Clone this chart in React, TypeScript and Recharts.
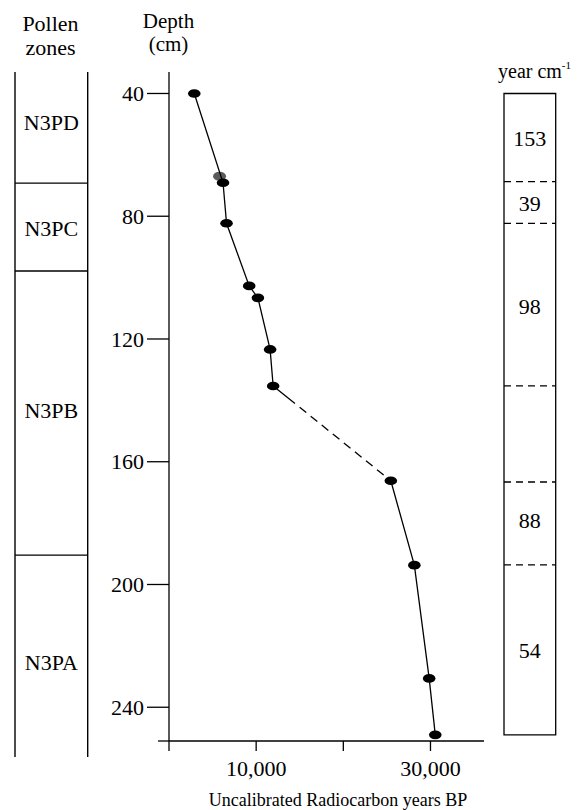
import React from 'react';
import {
  ComposedChart,
  Scatter,
  XAxis,
  YAxis,
  ReferenceLine,
  ReferenceArea,
} from 'recharts';

// ---- data ----
const upperAges = [2900, 6200, 6600, 9200, 10200, 11600, 11950];
const upperDepths = [40, 69.1, 82.3, 102.7, 106.6, 123.4, 135.3];
const gapAges = [11950, 25450];
const gapDepths = [135.3, 166.2];
const lowerAges = [25450, 28150, 29850, 30550];
const lowerDepths = [166.2, 193.7, 230.6, 249];
const greyAges = [5800];
const greyDepths = [67];

const depthTicks = [40, 80, 120, 160, 200, 240];
const ageTicks = [0, 10000, 20000, 30000];
const ageTickLabels: Record<number, string> = { 0: '', 10000: '10,000', 20000: '', 30000: '30,000' };

const zoneNames = ['N3PD', 'N3PC', 'N3PB', 'N3PA'];
const zoneLabelDepths = [49.5, 83.9, 143.1, 225.3];
const zoneBoundaries = [69.2, 97.85, 190.4];
const zoneTop = 33;
const zoneBottom = 256.2;

const rateValues = ['153', '39', '98', '88', '54'];
const rateLabelDepths = [54.5, 75.7, 109.3, 179, 221.6];
const rateBoundaries = [68.7, 82.3, 135.3, 166.6, 193.6];
const rateTop = 40;
const rateBottom = 249;

const depthDomain: [number, number] = [33, 251];
const ageDomain: [number, number] = [0, 36140];
const axisExtensionAge = -1262;

const toPts = (xs: number[], ys: number[]) => xs.map((x, i) => ({ age: x, depth: ys[i] }));
const upperData = toPts(upperAges, upperDepths);
const gapData = toPts(gapAges, gapDepths);
const lowerData = toPts(lowerAges, lowerDepths);
const greyData = toPts(greyAges, greyDepths);
const zoneLabelData = zoneNames.map((n, i) => ({ x: 0.5, y: zoneLabelDepths[i], name: n }));
const rateLabelData = rateValues.map((n, i) => ({ x: 0.5, y: rateLabelDepths[i], name: n }));

const FONT = '"Liberation Serif", "Times New Roman", serif';
const INK = '#000';
const textStyle = (size: number): React.CSSProperties => ({ fontFamily: FONT, fontSize: size, fill: INK });

const Dot = (props: any) => {
  const { cx, cy } = props;
  if (cx == null || cy == null) return <g />;
  return <ellipse cx={cx} cy={cy} rx={6.3} ry={4.3} fill={INK} />;
};
const GreyDot = (props: any) => {
  const { cx, cy } = props;
  if (cx == null || cy == null) return <g />;
  return <ellipse cx={cx} cy={cy} rx={6.5} ry={4.6} fill="#5a5a5a" />;
};
const NoDot = () => <g />;
const TextMark = (props: any) => {
  const { cx, cy, payload } = props;
  if (cx == null || cy == null) return <g />;
  return (
    <text x={cx} y={cy} dy="0.35em" textAnchor="middle" style={textStyle(22)}>
      {payload.name}
    </text>
  );
};

const XTick = (props: any) => {
  const { x, y, payload } = props;
  const label = ageTickLabels[payload.value] ?? '';
  if (!label) return <g />;
  return (
    <text x={x} y={y} dy="0.71em" textAnchor="middle" style={textStyle(22)}>
      {label}
    </text>
  );
};
const YTick = (props: any) => {
  const { x, y, payload } = props;
  return (
    <text x={x} y={y} dy="0.35em" textAnchor="end" style={textStyle(22)}>
      {payload.value}
    </text>
  );
};

const MainChart = () => (
  <ComposedChart
    width={580}
    height={810}
    margin={{ top: 72, right: 96, bottom: 0, left: 0 }}
    style={{ position: 'absolute', left: 0, top: 0 }}
  >
    <XAxis
      dataKey="age"
      type="number"
      domain={ageDomain}
      allowDataOverflow
      ticks={ageTicks}
      tickSize={10}
      tickMargin={9}
      height={69}
      stroke={INK}
      strokeWidth={1.3}
      tick={<XTick />}
      tickLine={{ stroke: INK, strokeWidth: 1.3 }}
      interval={0}
    />
    <YAxis
      dataKey="depth"
      type="number"
      domain={depthDomain}
      allowDataOverflow
      reversed
      ticks={depthTicks}
      tickSize={22}
      tickMargin={3}
      width={169}
      stroke={INK}
      strokeWidth={1.3}
      tick={<YTick />}
      tickLine={{ stroke: INK, strokeWidth: 1.3 }}
      interval={0}
    />
    <ReferenceLine
      segment={[
        { x: axisExtensionAge, y: depthDomain[1] },
        { x: 0, y: depthDomain[1] },
      ]}
      stroke={INK}
      strokeWidth={1.3}
      ifOverflow="visible"
    />
    <Scatter
      data={gapData}
      dataKey="depth"
      shape={NoDot}
      line={{
        stroke: INK,
        strokeWidth: 1.3,
        strokeDasharray:
          '28 6 8.5 5.7 8.5 5.7 8.5 5.7 8.5 5.7 8.5 5.7 8.5 5.7 8.5 5.7 8.5 5.7 40',
      }}
      isAnimationActive={false}
    />
    <Scatter data={greyData} dataKey="depth" shape={GreyDot} isAnimationActive={false} />
    <Scatter
      data={upperData}
      dataKey="depth"
      shape={Dot}
      line={{ stroke: INK, strokeWidth: 1.3 }}
      isAnimationActive={false}
    />
    <Scatter
      data={lowerData}
      dataKey="depth"
      shape={Dot}
      line={{ stroke: INK, strokeWidth: 1.3 }}
      isAnimationActive={false}
    />
  </ComposedChart>
);

const ZoneChart = () => (
  <ComposedChart
    width={110}
    height={810}
    margin={{ top: 72, right: 22.3, bottom: 69, left: 15 }}
    style={{ position: 'absolute', left: 0, top: 0 }}
    data={zoneLabelData}
  >
    <XAxis dataKey="x" type="number" domain={[0, 1]} hide allowDataOverflow />
    <YAxis type="number" domain={depthDomain} reversed hide width={0} allowDataOverflow />
    <ReferenceLine
      segment={[{ x: 0, y: zoneTop }, { x: 0, y: zoneBottom }]}
      stroke={INK}
      strokeWidth={1.4}
      ifOverflow="visible"
    />
    <ReferenceLine
      segment={[{ x: 1, y: zoneTop }, { x: 1, y: zoneBottom }]}
      stroke={INK}
      strokeWidth={1.4}
      ifOverflow="visible"
    />
    {zoneBoundaries.map((d) => (
      <ReferenceLine key={d} y={d} stroke={INK} strokeWidth={1.3} />
    ))}
    <Scatter data={zoneLabelData} dataKey="y" shape={TextMark} isAnimationActive={false} />
  </ComposedChart>
);

const RateChart = () => (
  <ComposedChart
    width={100}
    height={810}
    margin={{ top: 72, right: 24.3, bottom: 69, left: 24 }}
    style={{ position: 'absolute', left: 480, top: 0 }}
    data={rateLabelData}
  >
    <XAxis dataKey="x" type="number" domain={[0, 1]} hide allowDataOverflow />
    <YAxis type="number" domain={depthDomain} reversed hide width={0} allowDataOverflow />
    <ReferenceArea
      x1={0}
      x2={1}
      y1={rateTop}
      y2={rateBottom}
      fill="none"
      fillOpacity={0}
      stroke={INK}
      strokeWidth={1.3}
      ifOverflow="visible"
    />
    {rateBoundaries.map((d) => (
      <ReferenceLine key={d} y={d} stroke={INK} strokeWidth={1.3} strokeDasharray="7 5" />
    ))}
    <Scatter data={rateLabelData} dataKey="y" shape={TextMark} isAnimationActive={false} />
  </ComposedChart>
);

const Titles = () => (
  <svg
    width={580}
    height={810}
    style={{ position: 'absolute', left: 0, top: 0, pointerEvents: 'none' }}
  >
    <text x={50.5} y={30.5} textAnchor="middle" style={textStyle(22)}>Pollen</text>
    <text x={50.5} y={54.5} textAnchor="middle" style={textStyle(22)}>zones</text>
    <text x={168.5} y={27.5} textAnchor="middle" style={textStyle(21)}>Depth</text>
    <text x={168.5} y={51} textAnchor="middle" style={textStyle(21)}>(cm)</text>
    <text x={498} y={78} style={textStyle(20)}>
      year cm
      <tspan style={{ fontSize: 11 }} dy={-9}>-1</tspan>
    </text>
    <text x={338} y={806} textAnchor="middle" style={textStyle(18)}>
      Uncalibrated Radiocarbon years BP
    </text>
  </svg>
);

export default function App() {
  return (
    <div
      style={{
        position: 'absolute',
        left: 0,
        top: 0,
        width: 580,
        height: 810,
        background: '#fff',
        overflow: 'hidden',
        fontFamily: FONT,
      }}
    >
      <ZoneChart />
      <MainChart />
      <RateChart />
      <Titles />
    </div>
  );
}
